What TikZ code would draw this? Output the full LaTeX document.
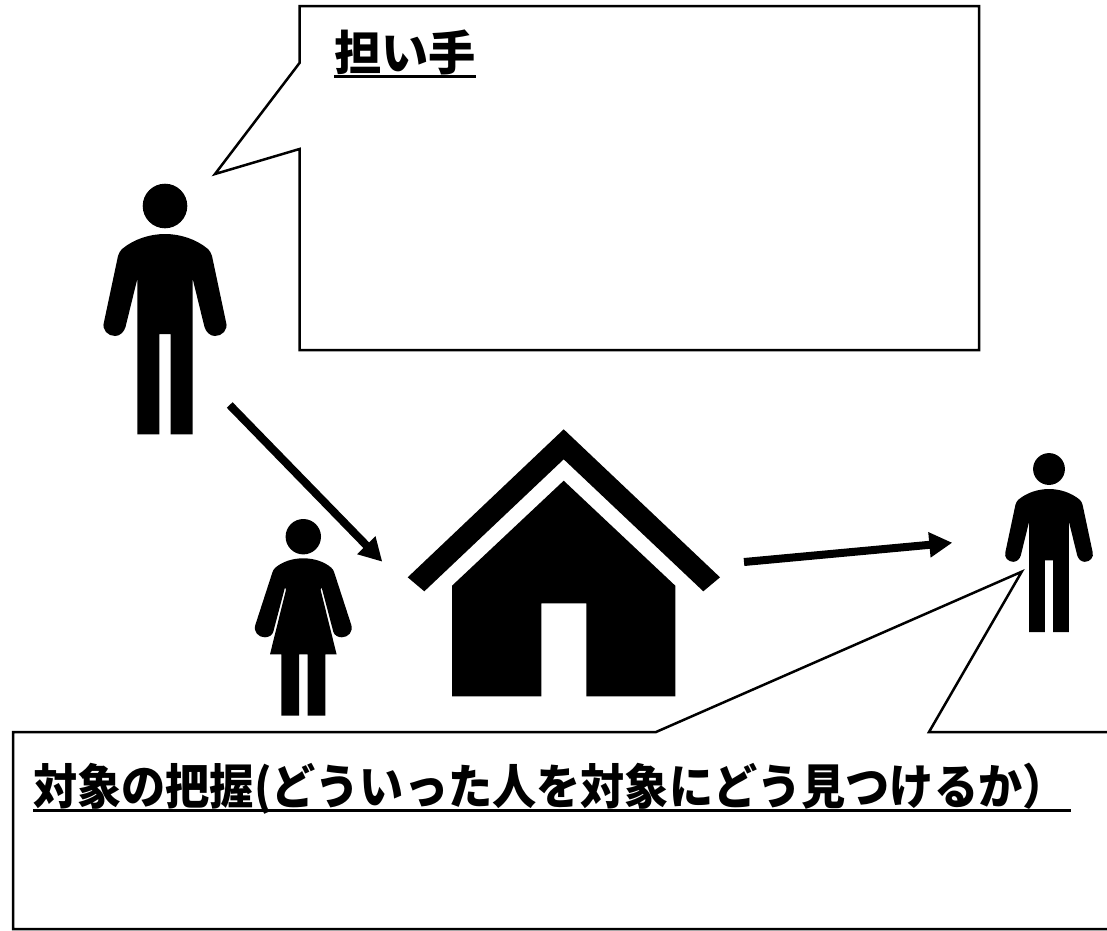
\documentclass[tikz,border=0pt]{standalone}
\usepackage{fontspec}
\usetikzlibrary{arrows.meta}
\newfontfamily\cjk{Noto Sans CJK JP}
\newfontfamily\cjknarrow[FakeStretch=0.92]{Noto Sans CJK JP}
\tikzset{
  callout/.style={draw=black,line width=2.5pt,fill=white,line join=miter,miter limit=20},
  ink/.style={fill=black,draw=none},
  bigarrow/.style={draw=black,line width=8pt,-{Triangle[length=23pt,width=24pt]}},
  rulebar/.style={draw=black,line width=3pt},
  label/.style={inner sep=0pt,anchor=base west,font=\cjk\bfseries}
}
\newcommand{\manfigure}{%
  \fill[ink] (0,0) circle (22.3);
  \fill[ink] (0,28) .. controls (-15,28) and (-31,33) .. (-43,43) .. controls (-45,45) and (-46,47) .. (-47,50)
    -- (-61,116) .. controls (-63.5,124) and (-57,130) .. (-50,130) .. controls (-45,130) and (-41,126) .. (-39.5,121)
    -- (-27.7,73) -- (-27.7,228.3) -- (-5.7,228.3) -- (-5.7,128) -- (5.7,128) -- (5.7,228.3) -- (27.7,228.3) -- (27.7,73)
    -- (39.5,121) .. controls (41,126) and (45,130) .. (50,130) .. controls (57,130) and (63.5,124) .. (61,116)
    -- (47,50) .. controls (46,47) and (45,45) .. (43,43) .. controls (31,33) and (15,28) .. (0,28) -- cycle;
}
\newcommand{\womanfigure}{%
  \fill[ink] (0,0) circle (17.7);
  \fill[ink] (0,21.6) .. controls (-11,21.6) and (-21,25) .. (-28,31) .. controls (-29.5,32.5) and (-30.5,34) .. (-31,36)
    -- (-48,88.3) .. controls (-50,95) and (-45,100.6) .. (-38.5,100.6) .. controls (-34.5,100.6) and (-31,98.5) .. (-30,95)
    -- (-18.3,50.6) -- (-17.3,53) -- (-33.3,117.6) -- (-22,117.6) -- (-22,179) -- (-4.3,179) -- (-4.3,117.6)
    -- (4.3,117.6) -- (4.3,179) -- (22,179) -- (22,117.6) -- (33.3,117.6) -- (17.3,53) -- (18.3,50.6)
    -- (30,95) .. controls (31,98.5) and (34.5,100.6) .. (38.5,100.6) .. controls (45,100.6) and (50,95) .. (48,88.3)
    -- (31,36) .. controls (30.5,34) and (29.5,32.5) .. (28,31) .. controls (21,25) and (11,21.6) .. (0,21.6) -- cycle;
}
\begin{document}
\begin{tikzpicture}[x=1pt,y=-1pt]
\useasboundingbox (0,0) rectangle (1107,930);
% callouts
\draw[callout] (299.5,6) -- (979,6) -- (979,350) -- (299.5,350) -- (299.5,149) -- (215,174) -- (299.5,63) -- cycle;
\draw[callout] (13,732) -- (656,732) -- (1021.7,571.7) -- (929,732) -- (1115,732) -- (1115,929) -- (13,929) -- cycle;
% texts
\node[label,font=\cjk\bfseries\fontsize{47.3}{47.3}\selectfont] (bearer) at (334,70.5) {担い手};
\draw[rulebar] (334,76) -- (476,76);
\node[label,font=\cjknarrow\bfseries\fontsize{48}{48}\selectfont] (target) at (33,804) {対象の把握(どういった人を対象にどう見つけるか）};
\draw[rulebar] (33,810.5) -- (1071,810.5);
% figures
\begin{scope}[shift={(165,206)}]\manfigure\end{scope}
\begin{scope}[shift={(1049,469)},scale=.714]\manfigure\end{scope}
\begin{scope}[shift={(303.3,536.7)}]\womanfigure\end{scope}
% house
\fill[ink] (563.7,429.3) -- (720,577.3) -- (703.3,591.3) -- (563.7,459.3) -- (424.3,591.3) -- (407.7,577.3) -- cycle;
\fill[ink] (563.7,480.7) -- (675.3,585.7) -- (675.3,696.3) -- (586.3,696.3) -- (586.3,603.3) -- (541.3,603.3) -- (541.3,696.3) -- (452,696.3) -- (452,585.7) -- cycle;
% arrows
\coordinate (a1s) at (229.7,405);
\coordinate (a1e) at (382.3,561.7);
\coordinate (a2s) at (744,562);
\coordinate (a2e) at (952.3,542.7);
\draw[bigarrow] (a1s) -- (a1e);
\draw[bigarrow] (a2s) -- (a2e);
\end{tikzpicture}
\end{document}
